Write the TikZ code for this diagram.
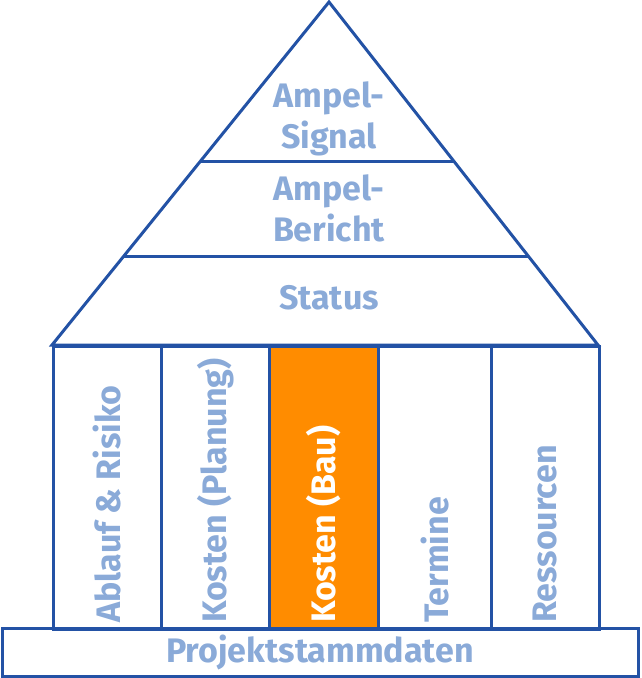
\documentclass[tikz,border=0pt]{standalone}
\usepackage{fontspec}
\setmainfont{Fira Sans}
\usetikzlibrary{calc,positioning}
\definecolor{frame}{HTML}{2352A5}
\definecolor{lettering}{HTML}{8AAAD8}
\definecolor{orange}{HTML}{FF8C00}
\tikzset{
  every node/.style={font=\bfseries\fontsize{34}{41}\selectfont, text=lettering},
  frameline/.style={draw=frame, line width=3pt},
  pillar/.style={frameline, anchor=north west, inner sep=0pt, minimum height=283pt},
  hotpillar/.style={pillar, fill=orange},
  caption/.style={rotate=90, anchor=west, inner sep=0pt},
  plinth/.style={frameline, minimum width=636pt, minimum height=48pt, inner sep=0pt},
  roof/.style={align=center},
}
\begin{document}
\begin{tikzpicture}[x=1pt,y=-1pt]
\useasboundingbox (0,0) rectangle (642,678);
% roof
\coordinate (apex) at (329,2);
\coordinate (eaveL) at (52,345);
\coordinate (eaveR) at (598,345);
\draw[frameline, line join=miter] (apex) -- (eaveR) -- (eaveL) -- cycle;
\draw[frameline] ($(apex)!0.466!(eaveL)$) coordinate (sigL) -- ($(apex)!0.466!(eaveR)$) coordinate (sigR);
\draw[frameline] ($(apex)!0.743!(eaveL)$) coordinate (berL) -- ($(apex)!0.743!(eaveR)$) coordinate (berR);
\node[roof] (signal) at (329,119) {Ampel-\\Signal};
\node[roof] (bericht) at (329,208) {Ampel-\\Bericht};
\node[roof] (status) at (329,298) {Status};
% pillars
\foreach \l/\r/\name/\txt in {52/160/ablauf/Ablauf \& Risiko, 160/268/planung/Kosten (Planung), 377/490/termine/Termine, 490/598/ressourcen/Ressourcen}{
  \node[pillar, minimum width=\r pt-\l pt] (p-\name) at (\l,345) {};
  \node[caption] (t-\name) at ($(p-\name.south)+(0,-8)$) {\txt};
}
\node[hotpillar, minimum width=109pt] (p-bau) at (268,345) {};
\node[caption, text=white] (t-bau) at ($(p-bau.south)+(0,-8)$) {Kosten (Bau)};
% base
\node[plinth] (base) at (320,652) {Projektstammdaten};
\end{tikzpicture}
\end{document}
